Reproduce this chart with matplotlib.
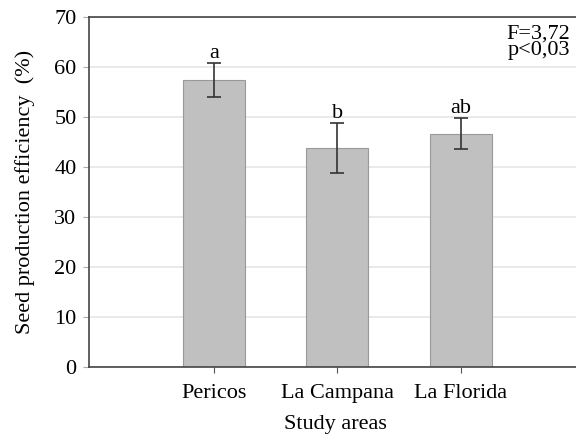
import matplotlib
matplotlib.use("Agg")
import matplotlib.pyplot as plt
import numpy as np

plt.rcParams['font.family'] = ['Liberation Serif', 'DejaVu Serif']

sites = ['Pericos', 'La Campana', 'La Florida']
efficiency = [57.5, 43.9, 46.7]
err = [3.4, 5.0, 3.1]
letters = ['a', 'b', 'ab']

x = np.arange(len(sites))

fig = plt.figure(figsize=(5.76, 4.43), dpi=100)
ax = fig.add_axes([89/576, 1 - 367/443, 1 - 89/576 + 0.01, 350/443])

ax.bar(x, efficiency, 0.5, yerr=err, color='#c0c0c0', edgecolor='#999999',
       linewidth=0.8, capsize=5, error_kw=dict(ecolor='#333333', elinewidth=1.2, capthick=1.2),
       zorder=2)

for xi, v, e, lab in zip(x, efficiency, err, letters):
    ax.annotate(lab, xy=(xi, v + e), xytext=(0, 0), textcoords='offset points',
                ha='center', va='bottom', fontsize=16)

ax.set_xlim(-1.01, 2.98)
ax.set_ylim(0, 70)
ax.set_yticks(range(0, 71, 10))
ax.set_xticks(x)
ax.set_xticklabels(sites, fontsize=16)
ax.tick_params(axis='y', labelsize=16, length=4, color='#aaaaaa', pad=5)
ax.tick_params(axis='x', length=4, color='#555555', pad=8)
ax.yaxis.grid(True, color='#e6e6e6', linewidth=1.2, zorder=0)
ax.set_axisbelow(True)

for s in ['left', 'bottom', 'top']:
    ax.spines[s].set_color('#444444')
    ax.spines[s].set_linewidth(1.2)
ax.spines['right'].set_visible(False)

ax.set_ylabel('Seed production efficiency  (%)', fontsize=16, labelpad=14)
ax.set_xlabel('Study areas', fontsize=16, labelpad=9)

fig.text(570/576, 1 - 25/443, 'F=3,72\np<0,03', ha='right', va='top', fontsize=16,
         linespacing=0.75)

fig.savefig('out.png', dpi=100)
